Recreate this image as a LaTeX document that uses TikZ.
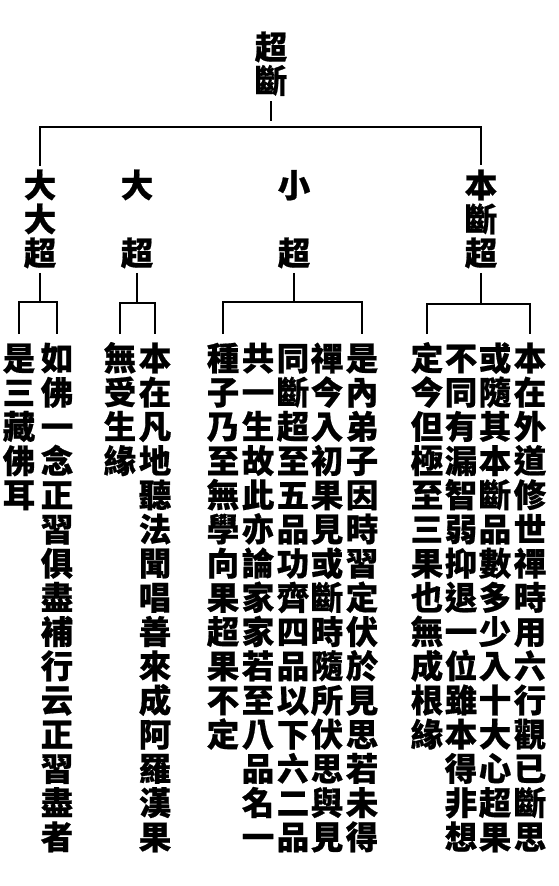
\documentclass[tikz,border=0pt]{standalone}
\usepackage{fontspec}
\newfontfamily\cjk{Noto Sans CJK TC}[BoldFeatures={FakeBold=0.6}]
\newcounter{vci}
\def\vcgap{vcgap}
\def\vcd{34.2}
\newcommand\vcol[4]{\setcounter{vci}{0}\def\vcname{#1}\def\vcx{#2}\def\vcy{#3}\vcloop#4\relax}
\def\vcloop#1{%
  \ifx\relax#1\else
    \ifx\vcgap#1\else
      \edef\vcn{\vcname-\the\value{vci}}%
      \node[ch] (\vcn) at ({\vcx},{-\vcy-\vcd*\the\value{vci}}) {#1};%
    \fi
    \stepcounter{vci}%
    \expandafter\vcloop
  \fi}
\tikzset{
  ch/.style={font=\cjk\bfseries\fontsize{32.5}{32.5}\selectfont, inner sep=0pt,
    text height=27pt, text depth=2.3pt, anchor=center},
  ln/.style={line width=2pt, black}
}
\begin{document}
\begin{tikzpicture}[x=1pt,y=1pt]
\fill[white] (0,0) rectangle (558,-886);
\useasboundingbox (0,0) rectangle (558,-886);
% root
\def\vcd{33.5}
\vcol{root}{271}{47}{超斷}
% labels
\def\vcd{34}
\vcol{la}{40}{185}{大大超}
\vcol{lb}{137}{185}{大\vcgap 超}
\vcol{lc}{294}{185}{小\vcgap 超}
\vcol{ld}{481}{185}{本斷超}
% body columns
\def\vcd{34.2}
\vcol{aR}{57}{358}{如佛一念正習俱盡補行云正習盡者}
\vcol{aL}{19}{358}{是三藏佛耳}
\vcol{bR}{155}{358}{本在凡地聽法聞唱善來成阿羅漢果}
\vcol{bL}{120}{358}{無受生緣}
\vcol{cA}{362}{358}{是內弟子因時習定伏於見思若未得}
\vcol{cB}{327}{358}{禪今入初果見或斷時隨所伏思與見}
\vcol{cC}{293}{358}{同斷超至五品功齊四品以下六二品}
\vcol{cD}{258}{358}{共一生故此亦論家家若至八品名一}
\vcol{cE}{223}{358}{種子乃至無學向果超果不定}
\vcol{dA}{530}{358}{本在外道修世禪時用六行觀已斷思}
\vcol{dB}{495}{358}{或隨其本斷品數多少入十大心超果}
\vcol{dC}{461}{358}{不同有漏智弱抑退一位雖本得非想}
\vcol{dD}{427}{358}{定今但極至三果也無成根緣}
% junctions
\coordinate (hl) at (271,-127);
\coordinate (ba) at (40,-302);
\coordinate (bb) at (137,-303);
\coordinate (bc) at (294,-302);
\coordinate (bd) at (481,-304);
% connectors
\draw[ln, shorten <=6pt, shorten >=6pt] (root-1.south) -- (hl);
\draw[ln, shorten <=4pt, shorten >=5pt] (la-0.north) |- (hl) -| (ld-0.north);
\draw[ln, shorten <=5pt] (la-2.south) -- (ba);
\draw[ln, shorten <=5pt] (lb-2.south) -- (bb);
\draw[ln, shorten <=5pt] (lc-2.south) -- (bc);
\draw[ln, shorten <=5pt] (ld-2.south) -- (bd);
\draw[ln, shorten <=9pt, shorten >=9pt] (aL-0.north) |- (ba) -| (aR-0.north);
\draw[ln, shorten <=9pt, shorten >=9pt] (bL-0.north) |- (bb) -| (bR-0.north);
\draw[ln, shorten <=9pt, shorten >=9pt] (cE-0.north) |- (bc) -| (cA-0.north);
\draw[ln, shorten <=9pt, shorten >=9pt] (dD-0.north) |- (bd) -| (dA-0.north);
\end{tikzpicture}
\end{document}
